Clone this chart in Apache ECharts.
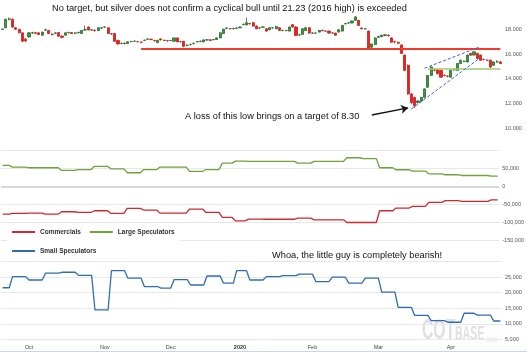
<!DOCTYPE html>
<html>
<head>
<meta charset="utf-8">
<script src="https://cdn.jsdelivr.net/npm/echarts/dist/echarts.min.js"></script>
<style>
html,body{margin:0;padding:0;background:#fff;}
#chart{width:527px;height:353px;}
</style>
</head>
<body>
<div id="chart"></div>
<script>
var chart = echarts.init(document.getElementById('chart'));

// trading days shown on the axis
var startDay = '2019-09-19', endDay = '2020-04-23';
var holidays = ['2019-11-28', '2019-12-25', '2020-01-01', '2020-04-10'];
var monthNames = ['Jan','Feb','Mar','Apr','May','Jun','Jul','Aug','Sep','Oct','Nov','Dec'];

// silver daily candles: [open, close, low, high]
var silver = [
  [18.0,18.02,17.95,18.06],[18.12,18.81,18.08,18.86],[18.8,18.84,18.72,18.95],[18.81,18.18,18.12,18.86],
  [18.12,18.0,17.95,18.18],[17.99,17.71,17.68,18.02],[17.71,17.03,16.98,17.74],[17.2,17.06,16.95,17.3],
  // oct
  [17.38,17.71,17.3,17.75],[17.7,17.72,17.62,17.8],[17.72,17.68,17.6,17.78],[17.71,17.58,17.52,17.76],
  [17.52,17.77,17.48,17.8],[17.93,17.95,17.85,18.05],[17.9,17.66,17.6,17.95],[17.6,17.58,17.5,17.66],
  [17.68,17.7,17.6,17.76],[17.73,17.44,17.4,17.78],[17.45,17.35,17.25,17.5],[17.52,17.71,17.48,17.75],
  [17.72,17.74,17.66,17.8],[17.74,17.66,17.62,17.78],[17.68,17.7,17.62,17.76],[17.72,17.75,17.66,17.8],
  [17.66,17.9,17.62,17.94],[17.93,17.96,17.88,18.3],[18.18,17.95,17.9,18.22],[17.94,17.96,17.88,18.02],
  [17.92,17.9,17.8,17.98],[17.9,18.12,17.86,18.16],[18.1,18.12,18.04,18.18],
  // nov
  [18.17,18.18,18.12,18.22],[18.12,17.66,17.62,18.16],[17.62,17.63,17.55,17.7],[17.66,17.03,16.98,17.7],
  [17.1,16.81,16.76,17.14],[16.85,16.86,16.78,16.92],[16.84,16.86,16.78,16.94],[16.84,16.98,16.8,17.02],
  [17.0,17.01,16.94,17.06],[17.03,17.04,16.98,17.08],[17.0,17.0,16.93,17.06],[16.96,16.95,16.88,17.02],
  [17.1,17.12,17.05,17.16],[17.2,17.21,17.15,17.26],[17.2,17.17,17.12,17.24],[17.1,17.07,17.0,17.14],
  [16.92,17.11,16.88,17.14],[17.22,17.14,17.1,17.26],[17.1,17.11,17.04,17.16],[17.08,17.07,17.0,17.14],
  // dec
  [17.09,17.09,17.04,17.13],[17.03,17.3,17.0,17.34],[17.3,16.98,16.94,17.33],[17.0,17.0,16.92,17.06],
  [17.03,16.62,16.54,17.06],[16.7,16.71,16.62,16.78],[16.76,16.77,16.7,16.82],[16.84,16.86,16.78,16.92],
  [16.98,17.0,16.94,17.05],[17.02,17.03,16.96,17.08],[16.98,17.14,16.94,17.18],[17.13,17.15,17.08,17.2],
  [17.15,17.09,17.05,17.19],[17.16,17.17,17.1,17.22],[17.17,17.3,17.14,17.34],[17.3,17.71,17.28,17.75],
  [17.66,18.0,17.62,18.05],[18.08,18.1,18.0,18.16],[18.05,18.05,17.98,18.1],[18.04,18.06,17.98,18.12],
  [18.08,18.1,18.02,18.16],
  // jan
  [18.12,18.18,18.08,18.22],[18.38,18.4,18.32,18.46],[18.35,18.53,18.32,18.95],[18.46,18.44,18.38,18.52],
  [18.53,18.26,18.2,18.58],[18.26,18.04,18.0,18.3],[18.1,18.12,18.04,18.18],[18.17,18.18,18.12,18.24],
  [18.04,17.85,17.8,18.08],[17.96,18.12,17.92,18.16],[18.11,18.12,18.06,18.18],[18.04,18.23,18.0,18.27],
  [18.12,17.9,17.86,18.16],[17.9,17.91,17.84,17.96],[17.89,17.9,17.84,17.95],[17.85,18.18,17.82,18.22],
  [18.37,18.18,18.14,18.41],[18.18,17.5,17.46,18.22],[17.55,17.56,17.44,17.62],[17.58,18.04,17.54,18.08],
  [17.9,18.12,17.86,18.16],[18.12,17.69,17.64,18.16],
  // feb
  [17.68,17.69,17.62,17.74],[17.69,17.69,17.64,17.74],[17.77,17.9,17.74,17.94],[17.92,17.88,17.84,17.96],
  [17.85,17.86,17.8,17.9],[17.85,17.69,17.65,17.88],[17.69,17.7,17.64,17.74],[17.69,17.52,17.48,17.72],
  [17.77,17.96,17.74,18.0],[17.85,18.31,17.82,18.35],[18.44,18.46,18.38,18.5],[18.5,18.52,18.45,18.56],
  [18.51,18.67,18.48,18.7],[18.72,19.0,18.7,19.05],[18.72,18.31,18.28,18.76],[18.1,18.04,18.0,18.14],
  [18.04,18.04,17.98,18.08],[17.85,16.45,16.4,17.88],[16.54,16.81,16.5,16.84],[16.76,17.3,16.72,17.34],
  // mar
  [17.35,17.41,17.3,17.48],[17.4,17.52,17.36,17.56],[17.5,17.55,17.44,17.62],[17.52,17.48,17.4,17.58],
  [17.3,16.95,16.9,17.35],[17.0,16.98,16.85,17.08],[16.95,16.87,16.8,17.0],[16.73,16.05,16.0,16.78],
  [15.91,14.68,14.6,15.95],[15.09,12.77,12.7,15.15],[12.77,12.08,11.95,12.85],[12.49,11.81,11.64,12.55],
  [12.08,12.2,12.0,12.28],[12.2,12.49,12.15,12.55],[12.49,13.18,12.45,13.22],[13.31,14.27,13.28,14.3],
  [14.27,14.95,14.22,15.0],[14.72,14.7,14.6,14.8],[14.73,14.41,14.36,14.78],[14.68,14.13,14.08,14.72],
  [14.28,14.26,14.2,14.34],[14.22,14.2,14.12,14.28],
  // apr
  [14.13,14.68,14.1,14.72],[14.72,14.73,14.66,14.8],[14.68,15.23,14.64,15.27],[15.23,15.5,15.2,15.54],
  [15.4,15.42,15.34,15.48],[15.36,15.91,15.32,15.95],[16.05,15.9,15.86,16.1],[15.91,16.18,15.88,16.22],
  [16.05,15.64,15.6,16.1],[15.91,15.5,15.46,15.95],[15.56,15.55,15.48,15.62],[15.5,15.5,15.44,15.56],
  [15.5,14.95,14.85,15.54],[15.09,15.36,15.05,15.4],[15.36,15.37,15.3,15.5],[15.36,15.23,15.18,15.42]
];

// weekly COT net positions (report tuesday)
var cotWeeks = ['2019-09-17','2019-09-24','2019-10-01','2019-10-08','2019-10-15','2019-10-22','2019-10-29',
  '2019-11-05','2019-11-12','2019-11-19','2019-11-26','2019-12-03','2019-12-10','2019-12-17','2019-12-24',
  '2019-12-31','2020-01-07','2020-01-14','2020-01-21','2020-01-28','2020-02-04','2020-02-11','2020-02-18',
  '2020-02-25','2020-03-03','2020-03-10','2020-03-17','2020-03-24','2020-03-31','2020-04-07','2020-04-14','2020-04-21'];
var commercials = [-77500,-75800,-74800,-77500,-71000,-73000,-68200,-75800,-61700,-66200,-74800,-74800,-63400,
  -73000,-87000,-96400,-91600,-92000,-92000,-89000,-93600,-93600,-101000,-101000,-68200,-60600,-56000,
  -44800,-40000,-42000,-42000,-38000];
var largeSpecs = [58600,54000,52000,52000,44500,47000,56000,49000,38000,47000,54000,54000,41700,47000,65000,
  70700,70000,70000,70000,65000,70000,70000,80000,77500,52000,46500,42600,35000,32400,30400,30400,28500];
var smallSpecs = [21600,25200,24100,26300,26600,25600,14500,27100,24700,22000,21500,24200,22500,25400,23100,
  27100,24100,25200,25500,26000,23600,25000,23100,24700,20200,15300,12700,11000,10500,13400,12800,10900];

// drawn levels on the price panel
var lowLevel = 16.42, lowFrom = '2019-11-18';
var supportLevel = 14.82, supportFrom = '2020-03-23';
var wedgeTop = [['2020-03-20', 14.85], ['2020-04-15', 16.6]];
var wedgeBottom = [['2020-03-16', 11.55], ['2020-04-15', 15.72]];

var titleText = 'No target, but silver does not confirm a cyclical bull until 21.23 (2016 high) is exceeded';
var noteLow = 'A loss of this low brings on a target of 8.30';
var noteSmall = 'Whoa, the little guy is completely bearish!';

var font = '"Liberation Sans", Arial, sans-serif';

function ymd(d) { return d.toISOString().slice(0, 10); }
var days = [];
var d = new Date(startDay + 'T00:00:00Z'), last = new Date(endDay + 'T00:00:00Z');
while (d <= last) {
    var s = ymd(d), wd = d.getUTCDay();
    if (wd != 0 && wd != 6 && holidays.indexOf(s) < 0) days.push(s);
    d.setUTCDate(d.getUTCDate() + 1);
}
var lastDay = days[days.length - 1];

// hold each weekly value until the next report
function daily(vals) {
    var out = [], w = 0;
    for (var i = 0; i < days.length; i++) {
        while (w + 1 < cotWeeks.length && cotWeeks[w + 1] <= days[i]) w++;
        out.push(vals[w]);
    }
    return out;
}

var monthStart = {};
days.forEach(function (s, i) {
    var m = s.slice(0, 7);
    if (!(m in monthStart)) monthStart[m] = i;
});
var isTick = days.map(function (s, i) { return i > 0 && monthStart[s.slice(0, 7)] === i; });

var gridW = 501;
var grids = [
    {left: 1, width: gridW, top: 4.5, height: 148.5},
    {left: 1, width: gridW, top: 150.6, height: 89.4},
    {left: 1, width: gridW, top: 261.7, height: 77.6}
];
var lblStyle = {fontSize: 5.5, color: '#555', fontFamily: font, margin: 3};

function xAx(i, show) {
    return {
        type: 'category', gridIndex: i, data: days, boundaryGap: true,
        axisLine: {show: false}, axisTick: {show: false}, splitLine: {show: false},
        axisLabel: show ? {
            show: true, fontSize: 5.5, color: '#444', fontFamily: font, margin: 5,
            interval: function (idx) { return isTick[idx]; },
            formatter: function (v) {
                var m = +v.slice(5, 7);
                return m == 1 ? '{y|' + v.slice(0, 4) + '}' : monthNames[m - 1];
            },
            rich: {y: {fontWeight: 'bold', fontSize: 5.5, color: '#333', fontFamily: font}}
        } : {show: false}
    };
}
function thousands(v) { return v.toLocaleString('en-US'); }

chart.setOption({
    animation: false,
    backgroundColor: '#fff',
    title: {
        text: titleText, left: 52, top: 4.3, padding: 0,
        textStyle: {fontSize: 9.25, fontWeight: 'normal', color: '#111', fontFamily: font}
    },
    legend: {
        left: 7, top: 223, width: 180, padding: [4, 5, 4, 5],
        backgroundColor: '#fff', itemWidth: 23, itemHeight: 2, itemGap: 9, icon: 'rect',
        data: ['Commercials', 'Large Speculators', 'Small Speculators'],
        textStyle: {fontSize: 6.5, fontWeight: 'bold', color: '#333', fontFamily: font, lineHeight: 10}
    },
    grid: grids,
    xAxis: [xAx(0, false), xAx(1, false), xAx(2, true)],
    yAxis: [
        {type: 'value', gridIndex: 0, position: 'right', min: 8, max: 20, interval: 2,
         axisLine: {show: false}, axisTick: {show: false}, splitLine: {show: false},
         axisLabel: Object.assign({}, lblStyle, {formatter: function (v) { return (v == 8 || v == 20) ? '' : v.toFixed(3); }})},
        {type: 'value', gridIndex: 1, position: 'right', min: -150000, max: 100000, interval: 50000,
         axisLine: {show: false}, axisTick: {show: false},
         splitLine: {lineStyle: {color: '#e8e8e8'}},
         axisLabel: Object.assign({}, lblStyle, {formatter: function (v) { return v == 100000 ? '' : thousands(v); }})},
        {type: 'value', gridIndex: 2, position: 'right', min: 5000, max: 30000, interval: 5000,
         axisLine: {show: false}, axisTick: {show: false},
         splitLine: {lineStyle: {color: '#e8e8e8'}},
         axisLabel: Object.assign({}, lblStyle, {formatter: function (v) { return v == 30000 ? '' : thousands(v); }})}
    ],
    series: [
        {
            name: 'Silver', type: 'candlestick', xAxisIndex: 0, yAxisIndex: 0,
            data: silver, barWidth: 2.6,
            itemStyle: {color: '#3c9a3c', color0: '#e8221c', borderColor: '#2a6a2a', borderColor0: '#cc1d18', borderWidth: 0.8},
            markLine: {
                silent: true, symbol: ['none', 'none'], label: {show: false}, animation: false,
                data: [
                    [{coord: [lowFrom, lowLevel], lineStyle: {color: '#f23b2b', width: 2, type: 'solid'}}, {coord: [lastDay, lowLevel]}],
                    [{coord: [supportFrom, supportLevel], lineStyle: {color: '#9ccc6a', width: 1.5, type: 'solid'}}, {coord: [lastDay, supportLevel]}],
                    [{coord: wedgeTop[0], lineStyle: {color: '#3b5bf2', width: 1, type: [3, 2]}}, {coord: wedgeTop[1]}],
                    [{coord: wedgeBottom[0], lineStyle: {color: '#3b5bf2', width: 1, type: [3, 2]}}, {coord: wedgeBottom[1]}],
                    [{coord: ['2020-02-27', 11.07], symbol: 'none', lineStyle: {color: '#111', width: 1.3, type: 'solid'}},
                     {coord: ['2020-03-13', 11.64], symbol: 'arrow', symbolSize: 7}]
                ]
            }
        },
        {
            name: 'Commercials', type: 'line', xAxisIndex: 1, yAxisIndex: 1,
            data: daily(commercials), showSymbol: false, color: '#cc2a30',
            lineStyle: {width: 1.3},
            markLine: {
                silent: true, symbol: ['none', 'none'], label: {show: false},
                lineStyle: {color: '#d0d0d0', width: 1.6, type: 'solid'},
                data: [{yAxis: 0}]
            }
        },
        {
            name: 'Large Speculators', type: 'line', xAxisIndex: 1, yAxisIndex: 1,
            data: daily(largeSpecs), showSymbol: false, color: '#6fa23a',
            lineStyle: {width: 1.3}
        },
        {
            name: 'Small Speculators', type: 'line', xAxisIndex: 2, yAxisIndex: 2,
            data: daily(smallSpecs), showSymbol: false, color: '#2f6db0', clip: false,
            lineStyle: {width: 1.3},
            markLine: {
                silent: true, label: {show: false},
                data: [
                    [{coord: ['2020-03-31', 31500], symbol: 'none', lineStyle: {color: '#111', width: 1.2, type: 'solid'}},
                     {coord: ['2020-04-22', 12500], symbol: 'arrow', symbolSize: 7}]
                ]
            }
        }
    ],
    graphic: [
        {type: 'text', left: 185, top: 112, silent: true,
         style: {text: noteLow, fill: '#111', font: '9.25px ' + font}},
        {type: 'text', left: 272, top: 251, silent: true,
         style: {text: noteSmall, fill: '#111', font: '9.25px ' + font}},
        {type: 'line', silent: true, shape: {x1: 0, y1: 351.5, x2: 527, y2: 351.5},
         style: {stroke: '#ccd6eb', lineWidth: 1}},
        // watermark
        {type: 'text', x: 422, y: 345, scaleX: 0.54, silent: true,
         style: {text: 'COT', fill: '#e0e0e0', font: 'bold 29px ' + font, verticalAlign: 'bottom'}},
        {type: 'text', x: 455, y: 345, scaleX: 0.5, silent: true,
         style: {text: 'BASE', fill: '#e0e0e0', font: 'bold 21px ' + font, verticalAlign: 'bottom'}},
        {type: 'text', x: 485, y: 344, scaleX: 0.65, silent: true,
         style: {text: '.COM', fill: '#e6e6e6', font: 'bold 7px ' + font, verticalAlign: 'bottom'}}
    ]
});

window.addEventListener('resize', function () { chart.resize(); });
</script>
</body>
</html>
